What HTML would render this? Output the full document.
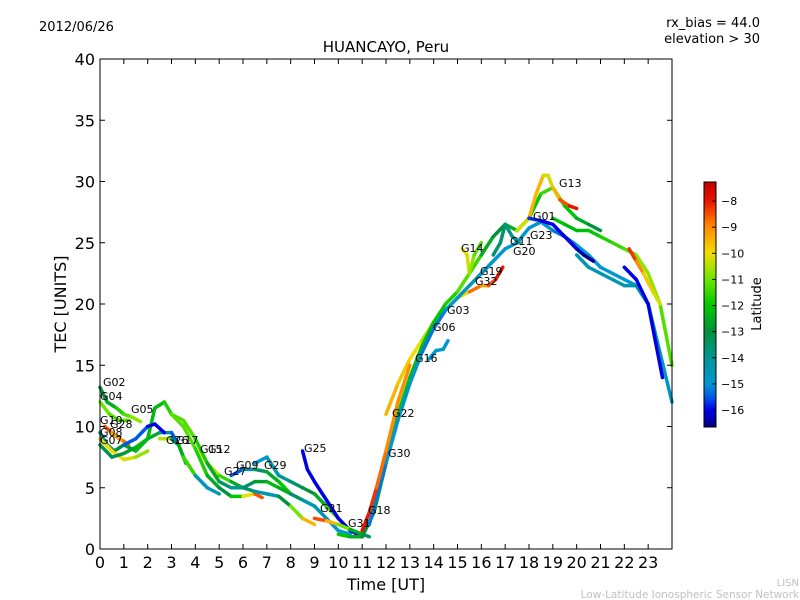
<!DOCTYPE html>
<html><head><meta charset="utf-8"><style>
body{margin:0;background:#fff;}
svg{display:block;font-family:"DejaVu Sans","Liberation Sans",sans-serif;}
</style></head><body>
<svg id="chart" width="800" height="600">
<defs><linearGradient id="cmap" x1="0" y1="1" x2="0" y2="0"></linearGradient></defs>
<text x="39" y="31" font-size="13">2012/06/26</text>
<text x="760" y="27" font-size="13" text-anchor="end">rx_bias = 44.0</text>
<text x="760" y="43" font-size="13" text-anchor="end">elevation &gt; 30</text>
<text x="386" y="52" font-size="15" text-anchor="middle">HUANCAYO, Peru</text>
<text transform="translate(66,304) rotate(-90)" font-size="16" text-anchor="middle">TEC [UNITS]</text>
<text x="386" y="590" font-size="16" text-anchor="middle">Time [UT]</text>
<text x="799" y="586" font-size="10" fill="#c0c0c0" text-anchor="end">LISN</text>
<text x="799" y="598" font-size="10.5" fill="#c0c0c0" text-anchor="end">Low-Latitude Ionospheric Sensor Network</text>
<g id="marks"></g>
<g id="axes"></g>
<rect x="704" y="182" width="12" height="245" fill="url(#cmap)" stroke="#000" stroke-width="1"/>
<g id="cbticks"></g>
<text transform="translate(761,304) rotate(-90)" font-size="13" text-anchor="middle">Latitude</text>
</svg>
<script>
const xTicks=[0,1,2,3,4,5,6,7,8,9,10,11,12,13,14,15,16,17,18,19,20,21,22,23];
const yTicks=[0,5,10,15,20,25,30,35,40];
const cbTicks=[-8,-9,-10,-11,-12,-13,-14,-15,-16];
const trackTimes=[
[0,0.3,0.7,1,1.3,1.7],
[0,0.4,0.8,1.2],
[0.2,0.5,0.8,1.0,1.2],
[0,0.3,0.6,1,1.5,2,2.5,3,3.3,3.6],
[0,0.5,1,1.5,2],
[0,0.5,1,1.5,2,2.3,2.7,3,3.5,4,4.5,5,5.5,6,6.5,6.8],
[1,1.5,2,2.3,2.7],
[2.5,3,3.3,3.5,4,4.5,5],
[4.2,4.5,5,5.5,6,6.5,7,7.5,8,8.5,9],
[5.5,6,6.5,7,7.5,8,8.5,9,9.5,10,10.5],
[6.5,7,7.5,8,8.5,9,9.5,10,10.5],
[8.5,8.7,9,9.5,10,10.5,11],
[9,9.5,10,10.5,11,11.3],
[12,12.5,13,13.5,14,14.5,15,15.5,16],
[10,10.5,11,11.5,12,12.5,13,13.5,14,14.5,15,15.5,16,16.5,17,17.5,18,18.5,19,19.5,20,20.5,21],
[11.3,12,12.5,13,13.5,14,14.5,15,15.5,16,16.5,17,17.5,18,18.5,19,19.5,20,20.5,21,21.5,22,22.5,23],
[17.5,18,18.3,18.6,18.8,19,19.3,19.7,20],
[18,18.5,19,19.5,20,20.3,20.7],
[19,19.5,20,20.5,21,21.5,22,22.5,23,23.5,24],
[20,20.5,21,21.5,22,22.5,23,23.5,24],
[22,22.5,23,23.3,23.6],
[15.2,15.4,15.5,15.7,16],
[16,16.3,16.6,16.9],
[22.2,22.5,22.8,23.2,23.5],
[16.5,16.8,17,17.3,17.6],
[11,11.3,11.6,12,12.5,13],
[13.8,14.1,14.4,14.6],
[3,3.5,4,4.5,5,5.5,6,6.5,7,7.5,8,8.5,9]
];
const trackTec=[
[13.2,12,11.5,11,10.8,10.4],
[12,11,10.5,10.5],
[10,9.5,9,8.8,8.5],
[9.5,8.5,8,8.5,8,9,9.5,9.5,8.5,7],
[9,8,7.3,7.5,8],
[8.5,7.5,7.8,8.3,9,11.5,12,11,10,8.2,6,5,4.3,4.3,4.5,4.2],
[8.5,9,10,10.2,9.5],
[9,9,8.5,7.5,6,5,4.5],
[8,7,6,5.5,5,4.7,4.5,4.3,3.5,2.5,2],
[6,6.5,6.5,6.3,5.5,4.5,4,3.5,2.5,1.5,1.2],
[7,7.5,6,5.5,5,4.5,3.5,2.5,1.5],
[8,6.5,5.5,4,2.5,1.5,1],
[2.5,2.3,2.0,1.6,1.2,1.0],
[11,13.5,15.5,17,18.5,19.5,20.5,21,21.5],
[1.2,1,1,3,7,11,14,16.5,18.5,20,21,22.5,24,25.5,26.5,26,27,29,29.5,28,27,26.5,26],
[2,7,10.5,13.5,16,18,19.5,20.5,21.5,22.5,23.5,24.5,25,26.2,26.7,26,25.5,24.8,24,23,22.5,22,21.5,20],
[26,27,29,30.5,30.5,29.5,28.5,28,27.8],
[27,26.8,26.5,25.5,24.5,24,23.5],
[27,26.5,26,26,25.5,25,24.5,24,22.5,20,15],
[24,23,22.5,22,21.5,21.5,20,16,12],
[23,22,20,17,14],
[24.5,24,22.5,24,25],
[21.5,21.5,22,23],
[24.5,23.5,22.5,21,20],
[24,25,26.5,25.5,25],
[1.5,3,5,8,12,15],
[15.5,16.2,16.3,17],
[11,10.5,9,7,5.5,5,5,5.5,5.5,5,4.5,4,3.5]
];
const trackLat=[
[-13,-13,-12,-11.5,-11,-10.5],
[-11,-11,-11.5,-11],
[-8,-9,-9.5,-9,-8.5],
[-14,-14,-13,-13,-12.5,-12,-13,-15,-16,-9],
[-10,-10,-10,-10.5,-11],
[-13,-13.5,-13,-12.5,-12,-12.5,-12,-11.5,-11,-11.5,-12,-13,-13,-11,-9,-8],
[-16,-15,-16,-16,-16],
[-10,-11,-16,-9,-14,-15,-14],
[-10,-10,-11,-12,-13,-14,-15,-14,-12,-10,-9],
[-16,-15,-14,-13,-12,-12,-13,-14,-15,-15,-15],
[-15,-15,-14,-14,-13,-13,-12,-11,-10],
[-16,-16,-16,-16,-16,-16,-16],
[-8,-9,-10,-12,-13,-14],
[-9.5,-9.5,-10,-10,-11,-11,-10.5,-9.5,-8],
[-12,-12,-13,-13,-12.5,-12,-12,-12.5,-12,-12,-11.5,-11,-12,-13,-13,-12,-12,-12,-11,-12,-12,-13,-13],
[-15.5,-15,-15,-14.5,-15,-15.5,-15,-15,-14.5,-14.5,-15,-15,-15,-15,-15,-15,-15.5,-15,-15,-15,-15,-15,-15,-14],
[-10.5,-10,-9,-10,-10.5,-10,-9,-8,-8],
[-15.5,-16,-16,-16,-16,-16.5,-16.5],
[-12,-12,-12.5,-12,-12,-11.5,-11.5,-11,-10.5,-11,-11.5],
[-14.5,-14.5,-14.5,-14.5,-14.5,-14.5,-14,-14.5,-15],
[-16,-16,-16,-16,-16],
[-10,-10,-10.5,-11,-11.5],
[-9.5,-9,-8,-8],
[-8,-8.5,-9.5,-10,-10.5],
[-13.5,-13.5,-13.5,-14,-14],
[-8,-8,-8.5,-9,-9,-9],
[-15,-15,-15,-15],
[-11.5,-11,-11.5,-12,-13,-14,-14,-13,-12.5,-12,-13,-14,-15]
];
const prnLabels=[["G02",103,386],["G04",100,400],["G05",131,413],["G10",100,424],["G28",110,428],["G08",100,436],["G07",100,444],["G26",166,444],["G17",176,444],["G15",200,453],["G12",208,453],["G27",224,475],["G09",236,469],["G29",264,469],["G25",304,452],["G21",320,512],["G31",348,527],["G18",368,514],["G30",388,457],["G22",392,417],["G16",415,362],["G06",433,331],["G03",447,314],["G14",461,252],["G19",480,275],["G32",475,285],["G11",510,245],["G20",513,255],["G23",530,239],["G01",533,220],["G13",559,187]];
const X0=100,X1=672,Y0=549,Y1=59;
const xs=t=>X0+t*(X1-X0)/24;
const ys=v=>Y0-v*(Y0-Y1)/40;
const vmin=-16.65,vmax=-7.27;
const cmapStops=[[-16.65,[0,0,130]],[-16,[0,0,230]],[-15.5,[0,90,230]],[-15,[0,150,210]],[-14,[0,150,150]],[-13,[0,145,60]],[-12,[0,200,0]],[-11,[110,230,0]],[-10,[240,220,0]],[-9,[255,140,0]],[-8,[235,20,0]],[-7.27,[190,0,0]]];
function cmap(v){v=Math.max(vmin,Math.min(vmax,v));
 for(let i=0;i<cmapStops.length-1;i++){const a=cmapStops[i],b=cmapStops[i+1];
  if(v<=b[0]){const f=(v-a[0])/(b[0]-a[0]);const c=a[1].map((x,k)=>Math.round(x+(b[1][k]-x)*f));return `rgb(${c[0]},${c[1]},${c[2]})`;}}
 return 'rgb(190,0,0)';}
const NS="http://www.w3.org/2000/svg";
function mk(tag,attrs,parent){const e=document.createElementNS(NS,tag);for(const k in attrs)e.setAttribute(k,attrs[k]);parent.appendChild(e);return e;}
const grad=document.getElementById('cmap');
cmapStops.forEach(s=>mk('stop',{offset:(s[0]-vmin)/(vmax-vmin),'stop-color':cmap(s[0])},grad));
const marks=document.getElementById('marks');
trackTimes.forEach((ts,i)=>{
  const g=mk('g',{},marks);
  
  
  for(let j=0;j<ts.length-1;j++){
    const s=mk('line',{x1:xs(ts[j]),y1:ys(trackTec[i][j]),x2:xs(ts[j+1]),y2:ys(trackTec[i][j+1]),stroke:cmap((trackLat[i][j]+trackLat[i][j+1])/2),'stroke-width':3.5,'stroke-linecap':'round'},g);
    
    
  }
});
prnLabels.forEach(l=>{
  const t=mk('text',{x:l[1],y:l[2],'font-size':11},marks);t.textContent=l[0];
  
  
});
const ax=document.getElementById('axes');
const fr=mk('rect',{x:X0,y:Y1,width:X1-X0,height:Y0-Y1,fill:'none',stroke:'#000','stroke-width':1},ax);


xTicks.forEach(t=>{const x=xs(t);
  mk('line',{x1:x,y1:Y0,x2:x,y2:Y0-5,stroke:'#000'},ax);mk('line',{x1:x,y1:Y1,x2:x,y2:Y1+5,stroke:'#000'},ax);
  const tx=mk('text',{x:x,y:568,'font-size':16,'text-anchor':'middle'},ax);tx.textContent=t;
  
  
});
yTicks.forEach(v=>{const y=ys(v);
  mk('line',{x1:X0,y1:y,x2:X0+5,y2:y,stroke:'#000'},ax);mk('line',{x1:X1,y1:y,x2:X1-5,y2:y,stroke:'#000'},ax);
  const tx=mk('text',{x:95,y:y+6,'font-size':16,'text-anchor':'end'},ax);tx.textContent=v;
  
  
});
const cb=document.getElementById('cbticks');
cbTicks.forEach(v=>{const y=182+(vmax-v)/(vmax-vmin)*245;
  mk('line',{x1:712,y1:y,x2:716,y2:y,stroke:'#000'},cb);
  const tx=mk('text',{x:721,y:y+4,'font-size':11},cb);tx.textContent='\u2212'+Math.abs(v);
  
  
});
</script>
</body></html>
